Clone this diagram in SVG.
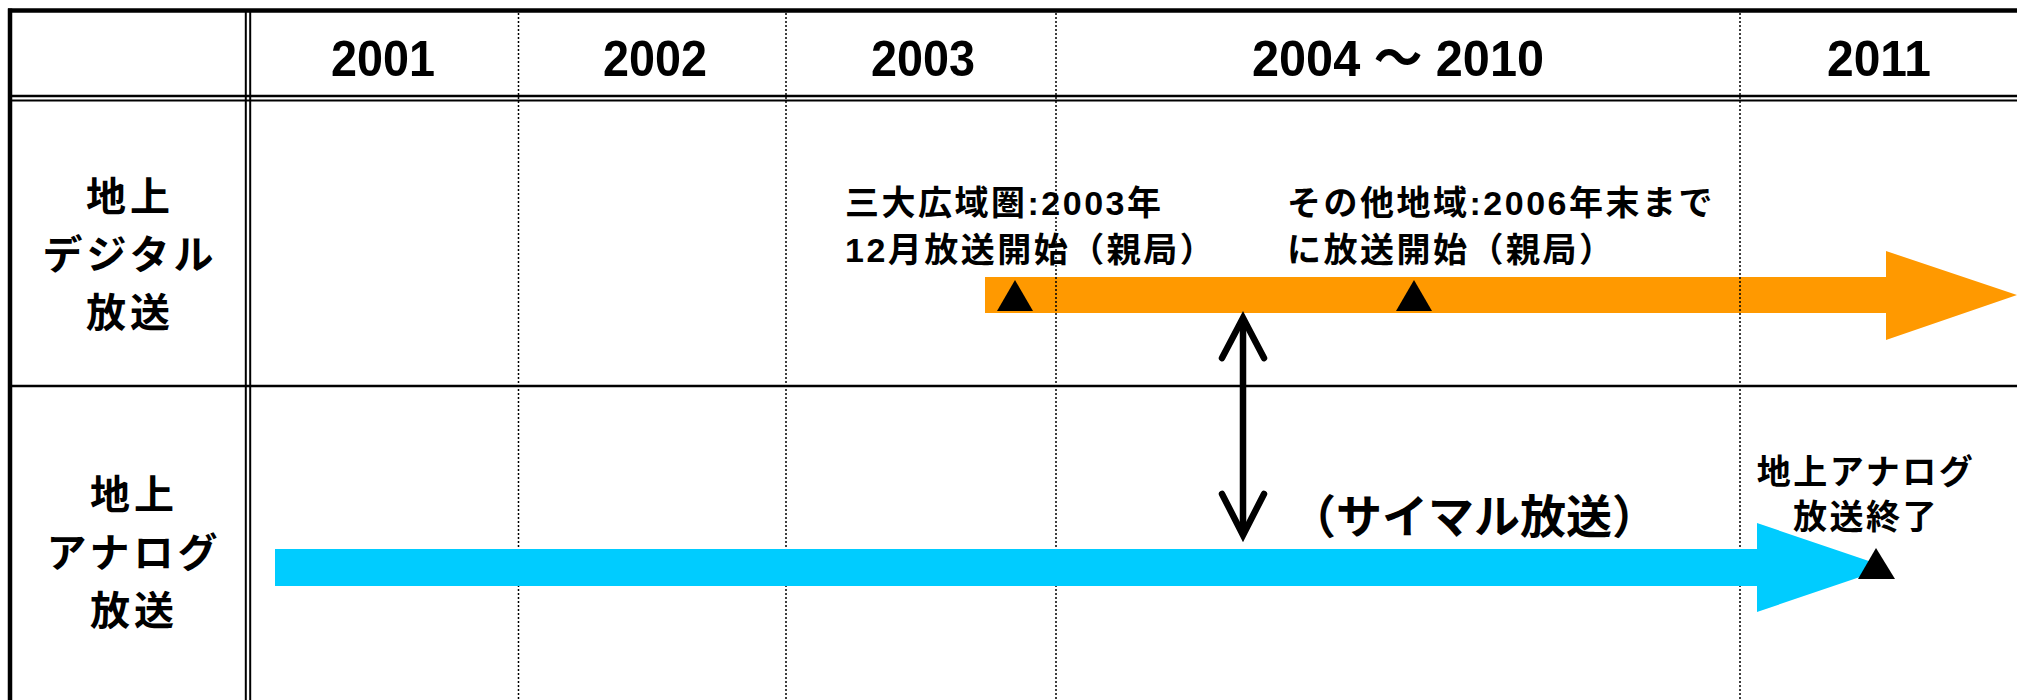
<svg xmlns="http://www.w3.org/2000/svg" width="2017" height="700" viewBox="0 0 2017 700">
<style>
.yr{font-family:"Liberation Sans","Noto Sans CJK JP",sans-serif;font-weight:bold;font-size:50px;fill:#000}
.lbl{font-family:"Noto Sans CJK JP",sans-serif;font-weight:bold;font-size:40px;letter-spacing:4px;text-anchor:middle;fill:#000}
.ann{font-family:"Liberation Sans","Noto Sans CJK JP",sans-serif;font-weight:bold;font-size:34px;letter-spacing:2.5px;fill:#000}
.big{font-family:"Noto Sans CJK JP",sans-serif;font-weight:bold;font-size:46px;text-anchor:middle;fill:#000}
.dot{stroke:#000;stroke-width:1.5;stroke-dasharray:2 2;fill:none}
.rule{stroke:#000;fill:none}
.mark{fill:#000}
</style>
<rect width="2017" height="700" fill="#fff"/>
<g id="grid">
<line class="rule" x1="10" y1="8.5" x2="10" y2="700" stroke-width="4.5"/>
<line class="rule" x1="8" y1="10.5" x2="2017" y2="10.5" stroke-width="4.5"/>
<line class="rule" x1="12" y1="96" x2="2017" y2="96" stroke-width="2.5"/>
<line class="rule" x1="12" y1="100.5" x2="2017" y2="100.5" stroke-width="2" stroke="#333"/>
<line class="rule" x1="12" y1="386" x2="2017" y2="386" stroke-width="2.5" stroke="#222"/>
<line class="rule" x1="245.8" y1="12" x2="245.8" y2="700" stroke-width="2"/>
<line class="rule" x1="250.2" y1="12" x2="250.2" y2="700" stroke-width="2"/>
</g>
<g id="digital-bar">
<path d="M985,277 H1886 V251 L2017,295 L1886,340 V313 H985 Z" fill="#FF9900"/>
</g>
<g id="year-dividers">
<line class="dot" x1="518.5" y1="13" x2="518.5" y2="700"/>
<line class="dot" x1="786" y1="13" x2="786" y2="700"/>
<line class="dot" x1="1056" y1="13" x2="1056" y2="700"/>
<line class="dot" x1="1740" y1="13" x2="1740" y2="700"/>
</g>
<g id="analog-bar">
<path d="M275,549 H1757 V523 L1888,567.5 L1757,612 V586 H275 Z" fill="#00CCFF"/>
</g>
<g id="header">
<text class="yr" x="331" y="76" textLength="104" lengthAdjust="spacingAndGlyphs">2001</text>
<text class="yr" x="603" y="76" textLength="104" lengthAdjust="spacingAndGlyphs">2002</text>
<text class="yr" x="871" y="76" textLength="104" lengthAdjust="spacingAndGlyphs">2003</text>
<text class="yr" x="1252" y="76" textLength="292" lengthAdjust="spacingAndGlyphs">2004 ～ 2010</text>
<text class="yr" x="1827" y="76" textLength="104" lengthAdjust="spacingAndGlyphs">2011</text>
</g>
<g id="row-digital">
<text class="lbl" x="130" y="211">地上<tspan x="130" dy="58">デジタル</tspan><tspan x="130" dy="58">放送</tspan></text>
</g>
<g id="row-analog">
<text class="lbl" x="134" y="509">地上<tspan x="134" dy="58">アナログ</tspan><tspan x="134" dy="58">放送</tspan></text>
</g>
<g id="event-major">
<path class="mark" d="M1015,280 L1033,311 L997,311 Z"/>
<text class="ann" x="845" y="215">三大広域圏:2003年<tspan x="845" dy="47">12月放送開始（親局）</tspan></text>
</g>
<g id="event-other">
<path class="mark" d="M1414,280 L1432,311 L1396,311 Z"/>
<text class="ann" x="1287" y="215">その他地域:2006年末まで<tspan x="1287" dy="47">に放送開始（親局）</tspan></text>
</g>
<g id="event-analog-end">
<path class="mark" d="M1876,548 L1895,579 L1858,579 Z"/>
<text class="ann" x="1866" y="484" text-anchor="middle">地上アナログ<tspan x="1866" dy="45">放送終了</tspan></text>
</g>
<g id="simulcast-label">
<text class="big" x="1474" y="533">（サイマル放送）</text>
</g>
<g id="connectors" stroke="#000" stroke-width="6.5" fill="none" stroke-linecap="round">
<line x1="1243" y1="322" x2="1243" y2="532"/>
<polyline points="1222,358 1243,318 1264,358" stroke-linejoin="miter"/>
<polyline points="1222,494 1243,535 1264,494" stroke-linejoin="miter"/>
</g>
</svg>
